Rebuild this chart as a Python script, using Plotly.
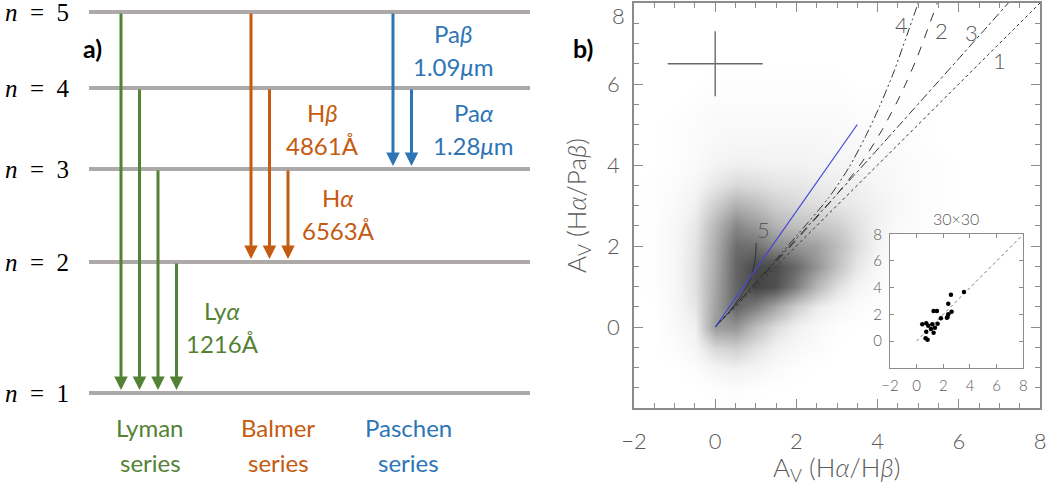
import plotly.graph_objects as go

W, H = 1048, 485

# ---------------- Panel a: energy levels (schematic heights) ----------------
level_n = [1, 2, 3, 4, 5]
level_height = [0, 131, 224, 305, 381]
series_names = ["Lyman", "Balmer", "Paschen"]
series_lower = [1, 2, 3]
series_upper = [[5, 4, 3, 2], [5, 4, 3], [5, 4]]
series_colors = ["#548235", "#C55A11", "#2E75B6"]
line_names = ["Ly<i>α</i>", "H<i>β</i>", "H<i>α</i>", "Pa<i>β</i>", "Pa<i>α</i>"]
line_waves = ["1216Å", "4861Å", "6563Å", "1.09<i>μ</i>m", "1.28<i>μ</i>m"]
line_series = [0, 1, 1, 2, 2]

# ---------------- Panel b: density of A_V(Ha/Hb) vs A_V(Ha/Pab) ----------------
dens_x = [-2.0, -1.5, -1.0, -0.5, 0.0, 0.5, 1.0, 1.5, 2.0, 2.5, 3.0, 3.5, 4.0, 4.5, 5.0, 5.5, 6.0]
dens_y = [-2.0, -1.5, -1.0, -0.5, 0.0, 0.5, 1.0, 1.5, 2.0, 2.5, 3.0, 3.5, 4.0, 4.5, 5.0, 5.5, 6.0, 6.5]
dens_z = [
    [0, 0, 0, 0, 0, 0, 0, 0, 0, 0, 0, 0, 0, 0, 0, 0, 0],
    [0, 0, 0, 0, 1, 2, 1, 0, 0, 0, 0, 0, 0, 0, 0, 0, 0],
    [0, 0, 0, 2, 6, 8, 6, 3, 1, 0, 0, 0, 0, 0, 0, 0, 0],
    [0, 0, 2, 5, 18, 22, 14, 7, 4, 2, 0, 0, 0, 0, 0, 0, 0],
    [0, 0, 3, 8, 45, 48, 30, 16, 8, 4, 1, 0, 0, 0, 0, 0, 0],
    [0, 0, 4, 12, 42, 70, 58, 40, 22, 10, 5, 2, 1, 0, 0, 0, 0],
    [0, 1, 4, 14, 40, 70, 86, 80, 58, 32, 15, 6, 2, 0, 0, 0, 0],
    [0, 1, 4, 14, 38, 70, 84, 82, 68, 48, 28, 12, 4, 0, 0, 0, 0],
    [0, 1, 4, 13, 36, 66, 64, 52, 48, 42, 30, 16, 6, 0, 0, 0, 0],
    [0, 1, 4, 11, 32, 54, 46, 34, 28, 26, 22, 14, 7, 3, 2, 1, 0],
    [0, 1, 3, 8, 22, 36, 30, 22, 18, 16, 13, 10, 7, 4, 2, 1, 0],
    [0, 1, 2, 5, 12, 18, 16, 13, 12, 10, 9, 8, 5, 3, 2, 1, 0],
    [0, 0, 1, 3, 6, 8, 8, 7, 7, 6, 6, 5, 4, 3, 2, 1, 0],
    [0, 0, 1, 2, 4, 5, 5, 5, 5, 5, 4, 4, 3, 2, 1, 0, 0],
    [0, 0, 1, 2, 3, 3, 3, 3, 3, 3, 3, 2, 2, 1, 1, 0, 0],
    [0, 0, 0, 1, 2, 2, 2, 2, 2, 2, 2, 1, 1, 1, 0, 0, 0],
    [0, 0, 0, 0, 1, 1, 1, 1, 1, 1, 1, 0, 0, 0, 0, 0, 0],
    [0, 0, 0, 0, 0, 0, 0, 0, 0, 0, 0, 0, 0, 0, 0, 0, 0],
]
model_names = ["1", "2", "3", "4", "5"]
m1_x = [0, 8.0]
m1_y = [0, 8.0]
m2_x = [0, 1.0, 2.0, 3.0, 3.6, 4.1, 4.55, 4.95, 5.25, 5.47]
m2_y = [0, 1.07, 2.15, 3.28, 4.05, 4.85, 5.7, 6.6, 7.4, 8.0]
m3_x = [0, 3.4, 7.22]
m3_y = [0, 3.72, 8.0]
m4_x = [0, 1.0, 2.0, 2.8, 3.3, 3.7, 4.05, 4.4, 4.72, 5.0]
m4_y = [0, 1.1, 2.25, 3.2, 3.95, 4.7, 5.45, 6.3, 7.2, 8.0]
m5_x = [0, 0.44, 0.86, 0.95, 0.99, 1.01]
m5_y = [0, 0.49, 1.16, 1.5, 1.73, 2.07]
model_label_x = [7.0, 5.58, 6.31, 4.58, 1.18]
model_label_y = [6.59, 7.33, 7.27, 7.47, 2.40]
blue_x = [0, 3.5]
blue_y = [0, 5.0]
err_center = [0.0, 6.5]
err_half = [1.17, 0.8]

# inset: 30x30 binned points
inset_x = [0.42, 0.72, 0.87, 1.17, 1.07, 1.37, 0.72, 1.57, 1.27, 0.67, 0.82, 1.27, 1.52,
           1.82, 2.32, 2.37, 2.62, 2.27, 2.37, 2.57, 3.55]
inset_y = [1.25, 1.33, 1.15, 1.25, 0.90, 1.00, 0.70, 1.30, 0.62, 0.20, 0.10, 2.25, 2.25,
           1.70, 1.80, 2.00, 2.20, 1.75, 2.80, 3.47, 3.67]
main_ticks = [-2, 0, 2, 4, 6, 8]

# ---------------- figure ----------------
fig = go.Figure()
E = dict(zip(level_n, level_height))

LEVEL_X0, LEVEL_X1 = 89, 530
arrow_x0 = [121, 251, 393]
arrow_dx = 18.5
level_gray = "#ADA9A9"

lx, ly = [], []
for n in level_n:
    lx += [LEVEL_X0, LEVEL_X1, None]
    ly += [E[n], E[n], None]
fig.add_trace(go.Scatter(x=lx, y=ly, mode="lines", line=dict(color=level_gray, width=4),
                         xaxis="x", yaxis="y", hoverinfo="skip", showlegend=False))

ann = []
for s, ups in enumerate(series_upper):
    for i, up in enumerate(ups):
        xa = arrow_x0[s] + i * arrow_dx
        ann.append(dict(x=xa, y=E[series_lower[s]], ax=xa, ay=E[up], xref="x", yref="y",
                        axref="x", ayref="y", showarrow=True, arrowhead=2, arrowsize=0.9,
                        arrowwidth=3, arrowcolor=series_colors[s], text="", standoff=3))

FONT_A = "Lato, Carlito, 'Open Sans', sans-serif"
label_pos = [(222, 66.5), (322, 264.5), (338, 179.5), (453, 343), (473, 264.5)]
for k in range(len(line_names)):
    x, yc = label_pos[k]
    c = series_colors[line_series[k]]
    for txt, dy in ((line_names[k], 16.5), (line_waves[k], -16.5)):
        ann.append(dict(x=x, y=yc + dy, xref="x", yref="y", text=txt, showarrow=False,
                        font=dict(family=FONT_A, size=24, color=c), xanchor="center", yanchor="middle"))

series_label_x = [150, 278, 408]
for s, name in enumerate(series_names):
    for txt, dy in ((name, 17.5), ("series", -17.5)):
        ann.append(dict(x=series_label_x[s], y=-52 + dy, xref="x", yref="y", text=txt, showarrow=False,
                        font=dict(family=FONT_A, size=24, color=series_colors[s]),
                        xanchor="center", yanchor="middle"))

for n in level_n:
    ann.append(dict(x=37, y=E[n], xref="x", yref="y",
                    text="<i>n</i>\u2002=\u2002" + str(n), showarrow=False,
                    font=dict(family="Liberation Serif, DejaVu Serif, serif", size=25, color="black"),
                    xanchor="center", yanchor="middle"))


def paper(px, py):
    return px / W, 1 - py / H


for txt, (px, py) in (("a)", (92, 48)), ("b)", (583, 48))):
    x, y = paper(px, py)
    ann.append(dict(x=x, y=y, xref="paper", yref="paper", text="<b>" + txt + "</b>", showarrow=False,
                    font=dict(family=FONT_A, size=25, color="black"), xanchor="center", yanchor="middle"))

# ---- panel b traces ----
gray_scale = [[0.0, "#ffffff"], [0.08, "#f2f2f2"], [0.25, "#cdcdcd"], [0.5, "#9c9c9c"],
              [0.75, "#6a6a6a"], [1.0, "#3c3c3c"]]
fig.add_trace(go.Heatmap(x=dens_x, y=dens_y, z=dens_z, zmin=0, zmax=90, zsmooth="best",
                         colorscale=gray_scale, showscale=False,
                         xaxis="x2", yaxis="y2", hoverinfo="skip"))

line_col = "#333333"
styles = [("dot", m1_x, m1_y), ("dash", m2_x, m2_y), ("dashdot", m3_x, m3_y),
          ("9px,3px,2px,3px,2px,3px", m4_x, m4_y), ("solid", m5_x, m5_y)]
for dash, xs, ys in styles:
    fig.add_trace(go.Scatter(x=xs, y=ys, mode="lines", line=dict(color=line_col, width=1, dash=dash,
                                                                  shape="spline", smoothing=0.8),
                             xaxis="x2", yaxis="y2", hoverinfo="skip", showlegend=False))
fig.add_trace(go.Scatter(x=blue_x, y=blue_y, mode="lines", line=dict(color="#4646D8", width=1.2),
                         xaxis="x2", yaxis="y2", hoverinfo="skip", showlegend=False))
cx, cy = err_center
fig.add_trace(go.Scatter(x=[cx - err_half[0], cx + err_half[0], None, cx, cx],
                         y=[cy, cy, None, cy - err_half[1], cy + err_half[1]],
                         mode="lines", line=dict(color="#6a6a6a", width=1.4),
                         xaxis="x2", yaxis="y2", hoverinfo="skip", showlegend=False))

FONT_B = dict(family="Lato, 'Liberation Sans', sans-serif", size=22, color="#5a5a5a", weight=300)
FONT_T = dict(FONT_B, size=26)
for k, name in enumerate(model_names):
    ann.append(dict(x=model_label_x[k], y=model_label_y[k], xref="x2", yref="y2", text=name,
                    showarrow=False, font=FONT_B, xanchor="center", yanchor="middle"))

# top y tick label, nudged down so it stays inside the page
ann.append(dict(x=618 / W, y=main_ticks[-1], xref="paper", yref="y2", text=str(main_ticks[-1]),
                showarrow=False, font=FONT_B, xanchor="center", yanchor="top", yshift=3))

# inset
IN_RANGE = [-2, 8]
fig.add_trace(go.Scatter(x=[IN_RANGE[0], IN_RANGE[1], IN_RANGE[1], IN_RANGE[0], IN_RANGE[0]],
                         y=[IN_RANGE[0], IN_RANGE[0], IN_RANGE[1], IN_RANGE[1], IN_RANGE[0]],
                         mode="lines", fill="toself", fillcolor="white", line=dict(width=0),
                         xaxis="x3", yaxis="y3", hoverinfo="skip", showlegend=False))
fig.add_trace(go.Scatter(x=m1_x, y=m1_y, mode="lines", line=dict(color="#777777", width=1, dash="dot"),
                         xaxis="x3", yaxis="y3", hoverinfo="skip", showlegend=False))
fig.add_trace(go.Scatter(x=inset_x, y=inset_y, mode="markers", marker=dict(color="black", size=4.5),
                         xaxis="x3", yaxis="y3", hoverinfo="skip", showlegend=False))

# axis titles as text
x, y = paper(836, 468)
ann.append(dict(x=x, y=y, xref="paper", yref="paper", showarrow=False, font=FONT_T,
                text="A<sub>V</sub> (H<i>α</i>/H<i>β</i>)", xanchor="center", yanchor="middle"))
x, y = paper(577, 206)
ann.append(dict(x=x, y=y, xref="paper", yref="paper", showarrow=False, font=FONT_T, textangle=-90,
                text="A<sub>V</sub> (H<i>α</i>/Pa<i>β</i>)", xanchor="center", yanchor="middle"))
x, y = paper(956, 219)
ann.append(dict(x=x, y=y, xref="paper", yref="paper", showarrow=False,
                font=dict(family=FONT_B["family"], size=16, color="#5a5a5a", weight=300),
                text="30×30", xanchor="center", yanchor="middle"))

frame_col = "#8c8c8c"
main_ax = dict(showline=True, linecolor=frame_col, linewidth=1.5, mirror="ticks", ticks="inside",
               ticklen=9, tickwidth=1, tickcolor=frame_col, showgrid=False, zeroline=False,
               tickfont=FONT_B, range=[-2, 8], fixedrange=True, automargin=False,
               ticklabeloverflow="allow",
               minor=dict(ticks="inside", ticklen=5, tickwidth=1, tickcolor=frame_col,
                          tickmode="linear", tick0=0, dtick=0.5, showgrid=False))
inset_ax = dict(showline=True, linecolor=frame_col, linewidth=1.3, mirror="ticks", ticks="inside",
                ticklen=4, tickwidth=1, tickcolor=frame_col, showgrid=False, zeroline=False,
                tickfont=dict(family=FONT_B["family"], size=15, color="#5a5a5a", weight=300),
                range=IN_RANGE, fixedrange=True, automargin=False, ticklabeloverflow="allow")

fig.update_layout(
    width=W, height=H, margin=dict(l=0, r=0, t=0, b=0, pad=0, autoexpand=False),
    paper_bgcolor="white", plot_bgcolor="white", showlegend=False,
    xaxis=dict(domain=[0, 560 / W], range=[0, 560], visible=False, fixedrange=True),
    yaxis=dict(domain=[0, 1], range=[-92, 393], visible=False, fixedrange=True),
    xaxis2=dict(main_ax, domain=[634 / W, 1040 / W], anchor="y2",
                tickmode="array", tickvals=main_ticks, ticklabelstandoff=13),
    yaxis2=dict(main_ax, domain=[1 - 408 / H, 1 - 3 / H], anchor="x2",
                tickmode="array", tickvals=main_ticks[1:-1], ticklabelstandoff=8),
    xaxis3=dict(inset_ax, domain=[890 / W, 1023.3 / W], anchor="y3",
                tickmode="array", tickvals=[-2, 0, 2, 4, 6, 8], ticklabelstandoff=4),
    yaxis3=dict(inset_ax, domain=[1 - 367.7 / H, 1 - 234.3 / H], anchor="x3",
                tickmode="array", tickvals=[0, 2, 4, 6, 8], ticklabelstandoff=4),
    annotations=ann,
)

fig.write_html("out.html")
